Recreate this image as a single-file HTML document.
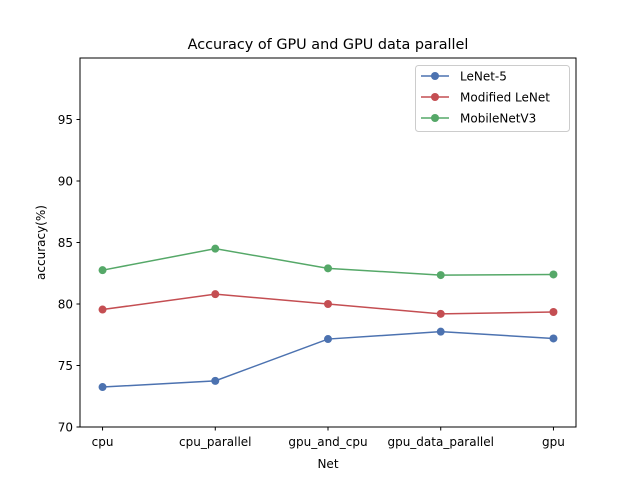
<!DOCTYPE html>
<html><head><meta charset="utf-8"><style>body{margin:0;background:#fff}svg{font-family:"DejaVu Sans","Liberation Sans",sans-serif}</style></head>
<body>
<svg id="c" width="640" height="480" viewBox="0 0 640 480"></svg>
<script>
const categories=["cpu","cpu_parallel","gpu_and_cpu","gpu_data_parallel","gpu"];
const lenet5=[73.25,73.75,77.15,77.75,77.2];
const modLenet=[79.55,80.8,80.0,79.2,79.35];
const mobilenet=[82.75,84.5,82.9,82.35,82.4];
const yTicks=[70,75,80,85,90,95];
const seriesNames=["LeNet-5","Modified LeNet","MobileNetV3"];
const colors=["#4c72b0","#c44e52","#55a868"];
const L=80,R=576,T=58,B=427;
const xs=i=>L+(i+0.2)/4.4*(R-L);
const ys=v=>B-(v-70)/30*(B-T);
const svg=document.getElementById('c');const NS="http://www.w3.org/2000/svg";
function mk(t,a,p){const e=document.createElementNS(NS,t);for(const k in a)e.setAttribute(k,a[k]);(p||svg).appendChild(e);return e;}
let fr=mk('rect',{x:L,y:T,width:R-L,height:B-T,fill:'none',stroke:'#000','stroke-width':1});


categories.forEach((c,i)=>{const x=xs(i);mk('line',{x1:x,x2:x,y1:B,y2:B+3.5,stroke:'#000'});
let t=mk('text',{x:x,y:B+19,'text-anchor':'middle','font-size':12});t.textContent=c;

});
yTicks.forEach(v=>{const y=ys(v);mk('line',{x1:L-3.5,x2:L,y1:y,y2:y,stroke:'#000'});
let t=mk('text',{x:L-7,y:y+4.5,'text-anchor':'end','font-size':12});t.textContent=v;

});
let tt=mk('text',{x:(L+R)/2,y:49,'text-anchor':'middle','font-size':14.4});tt.textContent="Accuracy of GPU and GPU data parallel";


let xl=mk('text',{x:(L+R)/2,y:468,'text-anchor':'middle','font-size':12});xl.textContent="Net";


let yl=mk('text',{x:0,y:0,'text-anchor':'middle','font-size':12,transform:`translate(45,${(T+B)/2}) rotate(-90)`});yl.textContent="accuracy(%)";


[lenet5,modLenet,mobilenet].forEach((d,s)=>{const g=mk('g',{});


mk('polyline',{points:d.map((v,i)=>xs(i)+','+ys(v)).join(' '),fill:'none',stroke:colors[s],'stroke-width':1.5},g);
d.forEach((v,i)=>{const p=mk('circle',{cx:xs(i),cy:ys(v),r:4,fill:colors[s]},g);

});});
const lg=mk('g',{});


mk('rect',{x:415.5,y:65.5,width:154,height:66,rx:3,fill:'#fff',stroke:'#ccc'},lg);
seriesNames.forEach((n,s)=>{const y=76+s*21;
mk('line',{x1:421,x2:449,y1:y,y2:y,stroke:colors[s],'stroke-width':1.5},lg);
mk('circle',{cx:435,cy:y,r:4,fill:colors[s]},lg);
let t=mk('text',{x:460,y:y+4.5,'font-size':12},lg);t.textContent=n;

});
</script>
</body></html>
